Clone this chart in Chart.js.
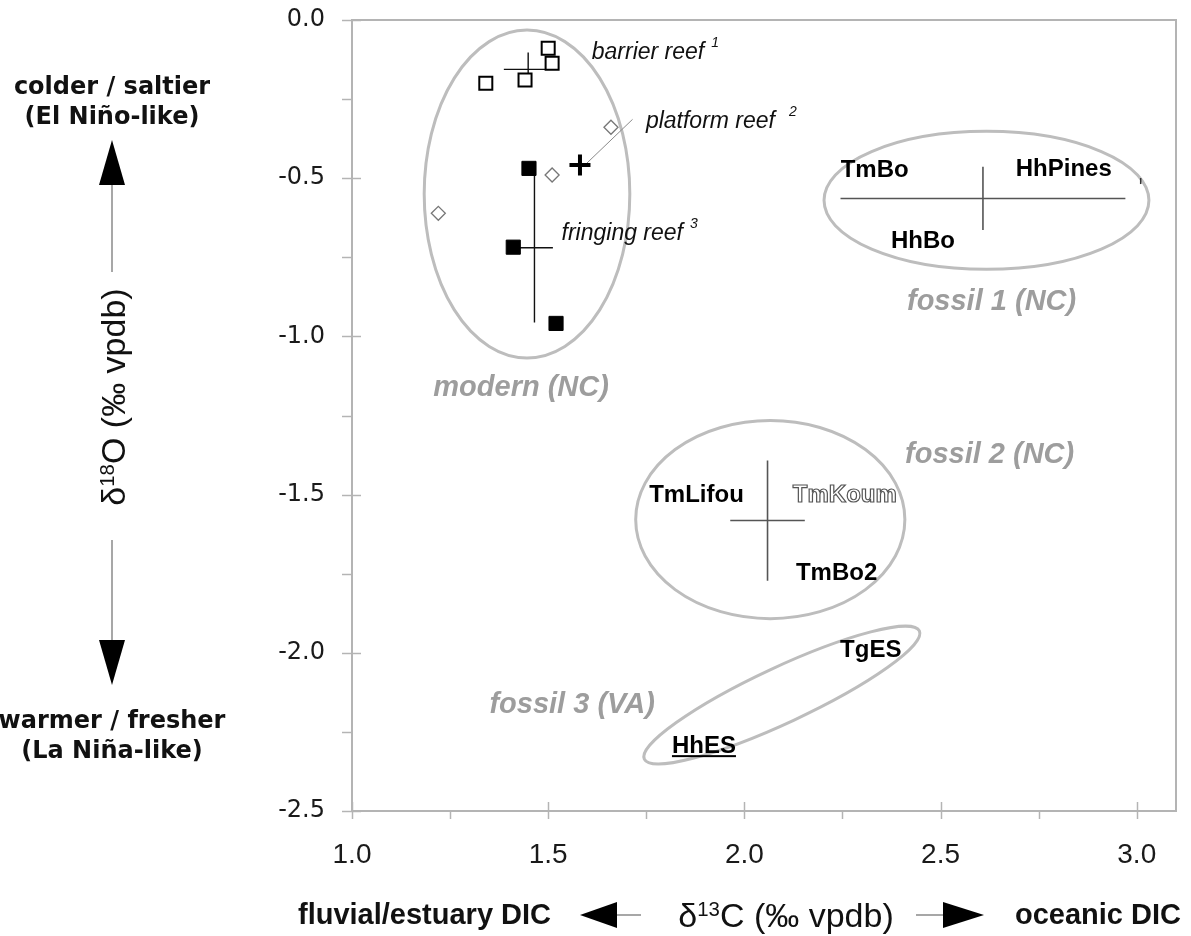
<!DOCTYPE html>
<html>
<head>
<meta charset="utf-8">
<script src="https://cdn.jsdelivr.net/npm/chart.js@4.4.1/dist/chart.umd.min.js"></script>
<style>
  html, body { margin: 0; padding: 0; background: #fff; }
  #wrap { width: 1191px; height: 936px; }
</style>
</head>
<body>
<div id="wrap"><canvas id="isoChart" width="1191" height="936"></canvas></div>
<script>
// modern corals (NC)
const barrierX = [1.500, 1.510, 1.341, 1.441];
const barrierY = [-0.089, -0.137, -0.200, -0.190];
const platformX = [1.660, 1.510, 1.220];
const platformY = [-0.339, -0.490, -0.611];
const platformMeanX = [1.581];
const platformMeanY = [-0.458];
const fringingX = [1.451, 1.411, 1.520];
const fringingY = [-0.469, -0.718, -0.959];

// group means with error bars: barrier reef, fringing reef, fossil 1, fossil 2
const meanNames = ['barrier reef', 'fringing reef', 'fossil 1', 'fossil 2'];
const meanX = [1.449, 1.465, 2.608, 2.059];
const meanY = [-0.156, -0.720, -0.564, -1.582];
const errX = [0.062, 0.047, 0.363, 0.095];
const errY = [0.053, 0.236, 0.100, 0.190];

// small mark at the right of fossil 1
const markX = [3.010];
const markY = [-0.509];

// leader line from platform mean to its label
const leaderX = [1.598, 1.715];
const leaderY = [-0.453, -0.314];

// group outlines (data units)
const ellipseCX = [1.446, 2.617, 2.066];
const ellipseCY = [-0.550, -0.570, -1.579];
const ellipseRX = [0.262, 0.414, 0.343];
const ellipseRY = [0.518, 0.218, 0.313];
const fossil3Ends = [[1.745, -2.336], [2.446, -1.931]];
const fossil3HalfWidth = 0.088;

// text in the plot
const siteNames = ['TmBo', 'HhPines', 'HhBo', 'TmLifou', 'TmKoum', 'TmBo2', 'TgES', 'HhES'];
const siteX = [2.332, 2.814, 2.455, 1.878, 2.256, 2.235, 2.322, 1.897];
const siteY = [-0.474, -0.472, -0.701, -1.501, -1.501, -1.749, -1.993, -2.295];
const groupNames = ['modern (NC)', 'fossil 1 (NC)', 'fossil 2 (NC)', 'fossil 3 (VA)'];
const groupX = [1.431, 2.630, 2.625, 1.561];
const groupY = [-1.163, -0.890, -1.375, -2.165];
const reefNames = ['barrier reef', 'platform reef', 'fringing reef'];
const reefSup = ['1', '2', '3'];
const reefX = [1.611, 1.749, 1.534];
const reefY = [-0.103, -0.321, -0.674];

// axes
const xMin = 1.0, xMax = 3.1;
const yMin = -2.5, yMax = 0.0;
const tickStep = 0.25;

const FRAME = '#b4b4b4';
const SANS = "'Liberation Sans', Arial, sans-serif";

function toPoints(xs, ys) {
  return xs.map((x, i) => ({ x: x, y: ys[i] }));
}

function crossPoints(idx) {
  const pts = [];
  idx.forEach(i => {
    pts.push({ x: meanX[i] - errX[i], y: meanY[i] }, { x: meanX[i] + errX[i], y: meanY[i] }, { x: meanX[i], y: null });
    pts.push({ x: meanX[i], y: meanY[i] - errY[i] }, { x: meanX[i], y: meanY[i] + errY[i] }, { x: meanX[i], y: null });
  });
  return pts;
}

function isStep(v, step) {
  return Math.abs(v / step - Math.round(v / step)) < 1e-6;
}

// draws text with a raised smaller part, centred on cx
function richText(ctx, parts, cx, cy, size) {
  let w = 0;
  parts.forEach(p => {
    ctx.font = (p.sup ? size * 0.6 : size) + 'px ' + SANS;
    p.w = ctx.measureText(p.t).width;
    w += p.w;
  });
  let x = cx - w / 2;
  ctx.textAlign = 'left';
  ctx.textBaseline = 'alphabetic';
  parts.forEach(p => {
    ctx.font = (p.sup ? size * 0.6 : size) + 'px ' + SANS;
    ctx.fillText(p.t, x, cy + size * 0.36 - (p.sup ? size * 0.33 : 0));
    x += p.w;
  });
}

function triangle(ctx, pts) {
  ctx.beginPath();
  ctx.moveTo(pts[0][0], pts[0][1]);
  ctx.lineTo(pts[1][0], pts[1][1]);
  ctx.lineTo(pts[2][0], pts[2][1]);
  ctx.closePath();
  ctx.fill();
}

const overlay = {
  id: 'overlay',
  beforeDatasetsDraw(chart) {
    const { ctx, chartArea: a, scales: { x, y } } = chart;
    ctx.save();
    // top and right frame
    ctx.strokeStyle = FRAME;
    ctx.lineWidth = 2;
    ctx.beginPath();
    ctx.moveTo(a.left, a.top);
    ctx.lineTo(a.right, a.top);
    ctx.lineTo(a.right, a.bottom);
    ctx.stroke();

    // tick marks: major ones cross the axis
    ctx.lineWidth = 1.5;
    x.ticks.forEach(t => {
      if (!isStep(t.value, tickStep)) return;
      const px = Math.round(x.getPixelForValue(t.value)) + 0.5;
      const major = isStep(t.value, 0.5);
      ctx.beginPath();
      ctx.moveTo(px, major ? a.bottom - 9 : a.bottom);
      ctx.lineTo(px, a.bottom + 8);
      ctx.stroke();
    });
    y.ticks.forEach(t => {
      if (!isStep(t.value, tickStep)) return;
      const py = Math.round(y.getPixelForValue(t.value)) + 0.5;
      const major = isStep(t.value, 0.5);
      ctx.beginPath();
      ctx.moveTo(a.left - 10, py);
      ctx.lineTo(major ? a.left + 9 : a.left, py);
      ctx.stroke();
    });

    // group outlines
    ctx.strokeStyle = '#bdbdbd';
    ctx.lineWidth = 3;
    const yUnit = y.getPixelForValue(-1) - y.getPixelForValue(0);
    ellipseCX.forEach((cx, i) => {
      const px = x.getPixelForValue(cx);
      const py = y.getPixelForValue(ellipseCY[i]);
      const rx = x.getPixelForValue(cx + ellipseRX[i]) - px;
      const ry = ellipseRY[i] * yUnit;
      ctx.beginPath();
      ctx.ellipse(px, py, rx, ry, 0, 0, Math.PI * 2);
      ctx.stroke();
    });
    const e1x = x.getPixelForValue(fossil3Ends[0][0]), e1y = y.getPixelForValue(fossil3Ends[0][1]);
    const e2x = x.getPixelForValue(fossil3Ends[1][0]), e2y = y.getPixelForValue(fossil3Ends[1][1]);
    ctx.beginPath();
    ctx.ellipse((e1x + e2x) / 2, (e1y + e2y) / 2, Math.hypot(e2x - e1x, e2y - e1y) / 2,
      fossil3HalfWidth * yUnit, Math.atan2(e2y - e1y, e2x - e1x), 0, Math.PI * 2);
    ctx.stroke();
    ctx.restore();
  },
  afterDatasetsDraw(chart) {
    const { ctx, scales: { x, y } } = chart;
    ctx.save();
    ctx.textAlign = 'center';
    ctx.textBaseline = 'middle';

    // site names
    ctx.font = 'bold 24px ' + SANS;
    siteNames.forEach((name, i) => {
      const px = x.getPixelForValue(siteX[i]);
      const py = y.getPixelForValue(siteY[i]);
      if (name === 'TmKoum') {
        ctx.fillStyle = '#fff';
        ctx.strokeStyle = '#555';
        ctx.lineWidth = 1.2;
        ctx.fillText(name, px, py);
        ctx.strokeText(name, px, py);
        return;
      }
      ctx.fillStyle = '#000';
      ctx.fillText(name, px, py);
      if (name === 'HhES') {
        const w = ctx.measureText(name).width;
        ctx.fillRect(px - w / 2, py + 9, w, 2);
      }
    });

    // group names
    ctx.font = 'italic bold 29px ' + SANS;
    ctx.fillStyle = '#9d9d9d';
    groupNames.forEach((name, i) => {
      ctx.fillText(name, x.getPixelForValue(groupX[i]), y.getPixelForValue(groupY[i]));
    });

    // reef type labels with footnote numbers
    ctx.textAlign = 'left';
    ctx.fillStyle = '#111';
    reefNames.forEach((name, i) => {
      const px = x.getPixelForValue(reefX[i]);
      const py = y.getPixelForValue(reefY[i]);
      ctx.font = 'italic 23px ' + SANS;
      ctx.fillText(name, px, py);
      const w = ctx.measureText(name).width;
      ctx.font = 'italic 14px ' + SANS;
      ctx.fillText(reefSup[i], px + w + (i === 1 ? 14 : 7), py - 9);
    });
    ctx.restore();
  },
  afterDraw(chart) {
    const { ctx } = chart;
    ctx.save();
    ctx.fillStyle = '#111';

    // left side: direction of the oxygen axis
    ctx.textAlign = 'center';
    ctx.textBaseline = 'middle';
    ctx.font = "bold 24px 'DejaVu Sans', sans-serif";
    ctx.fillText('colder / saltier', 112, 88);
    ctx.fillText('(El Niño-like)', 112, 118);
    ctx.fillText('warmer / fresher', 112, 722);
    ctx.fillText('(La Niña-like)', 112, 752);

    ctx.strokeStyle = '#8a8a8a';
    ctx.lineWidth = 1.5;
    ctx.beginPath();
    ctx.moveTo(112, 185); ctx.lineTo(112, 272);
    ctx.moveTo(112, 540); ctx.lineTo(112, 640);
    ctx.stroke();
    ctx.fillStyle = '#000';
    triangle(ctx, [[112, 140], [99, 185], [125, 185]]);
    triangle(ctx, [[112, 685], [99, 640], [125, 640]]);

    ctx.save();
    ctx.translate(113, 397);
    ctx.rotate(-Math.PI / 2);
    ctx.fillStyle = '#111';
    richText(ctx, [{ t: 'δ' }, { t: '18', sup: true }, { t: 'O (‰ vpdb)' }], 0, 0, 34);
    ctx.restore();

    // bottom: direction of the carbon axis
    ctx.fillStyle = '#111';
    richText(ctx, [{ t: 'δ' }, { t: '13', sup: true }, { t: 'C (‰ vpdb)' }], 786, 915, 34);
    ctx.font = 'bold 29px ' + SANS;
    ctx.textBaseline = 'middle';
    ctx.textAlign = 'left';
    ctx.fillText('fluvial/estuary DIC', 298, 916);
    ctx.fillText('oceanic DIC', 1015, 916);

    ctx.beginPath();
    ctx.moveTo(617, 915); ctx.lineTo(641, 915);
    ctx.moveTo(916, 915); ctx.lineTo(943, 915);
    ctx.stroke();
    ctx.fillStyle = '#000';
    triangle(ctx, [[580, 915], [617, 902], [617, 928]]);
    triangle(ctx, [[984, 915], [943, 902], [943, 928]]);
    ctx.restore();
  }
};

const data = {
  datasets: [
    {
      label: 'barrier reef',
      data: toPoints(barrierX, barrierY),
      pointStyle: 'rect',
      pointRadius: 9.2,
      pointBackgroundColor: '#fff',
      pointBorderColor: '#000',
      pointBorderWidth: 2
    },
    {
      label: 'platform reef',
      data: toPoints(platformX, platformY),
      pointStyle: 'rectRot',
      pointRadius: 7,
      pointBackgroundColor: '#fff',
      pointBorderColor: '#777',
      pointBorderWidth: 1.3
    },
    {
      label: 'platform reef mean',
      data: toPoints(platformMeanX, platformMeanY),
      pointStyle: 'cross',
      pointRadius: 10.5,
      pointBorderColor: '#000',
      pointBorderWidth: 4
    },
    {
      label: 'fringing reef',
      data: toPoints(fringingX, fringingY),
      pointStyle: 'rect',
      pointRadius: 10,
      pointBackgroundColor: '#000',
      pointBorderColor: '#000',
      pointBorderWidth: 1
    },
    {
      label: 'mark',
      data: toPoints(markX, markY),
      pointStyle: 'line',
      rotation: 90,
      pointRadius: 3,
      pointBorderColor: '#333',
      pointBorderWidth: 1.5
    },
    {
      label: 'leader',
      data: toPoints(leaderX, leaderY),
      showLine: true,
      borderColor: '#8a8a8a',
      borderWidth: 1,
      pointRadius: 0
    },
    {
      label: 'modern means',
      data: crossPoints([0, 1]),
      showLine: true,
      spanGaps: false,
      borderColor: '#111',
      borderWidth: 1.4,
      pointRadius: 0
    },
    {
      label: 'fossil means',
      data: crossPoints([2, 3]),
      showLine: true,
      spanGaps: false,
      borderColor: '#555',
      borderWidth: 1.6,
      pointRadius: 0
    }
  ]
};

const config = {
  type: 'scatter',
  data: data,
  plugins: [overlay],
  options: {
    responsive: false,
    devicePixelRatio: 1,
    animation: false,
    layout: { padding: { top: 20, right: 15, left: 0, bottom: 0 } },
    plugins: {
      legend: { display: false },
      tooltip: { enabled: false }
    },
    scales: {
      x: {
        type: 'linear',
        min: xMin,
        max: xMax,
        afterFit(scale) {
          scale.height = 125;
          scale.paddingLeft = 0;
          scale.paddingRight = 0;
        },
        grid: { display: true, drawOnChartArea: false, drawTicks: false },
        border: { display: true, color: FRAME, width: 2 },
        ticks: {
          stepSize: tickStep,
          includeBounds: false,
          autoSkip: false,
          maxRotation: 0,
          padding: 27,
          color: '#1a1a1a',
          font: { family: 'Liberation Sans', size: 28 },
          callback: (v) => isStep(v, 0.5) ? v.toFixed(1) : ''
        }
      },
      y: {
        type: 'linear',
        min: yMin,
        max: yMax,
        afterFit(scale) {
          scale.width = 352;
          scale.paddingTop = 0;
          scale.paddingBottom = 0;
        },
        grid: { display: true, drawOnChartArea: false, drawTicks: false },
        border: { display: true, color: FRAME, width: 2 },
        ticks: {
          stepSize: tickStep,
          autoSkip: false,
          padding: 27,
          color: '#1a1a1a',
          font: { family: 'DejaVu Sans', size: 24 },
          callback: (v) => isStep(v, 0.5) ? v.toFixed(1) : ''
        }
      }
    }
  }
};

const chart = new Chart(document.querySelector('#isoChart'), config);
</script>
</body>
</html>
